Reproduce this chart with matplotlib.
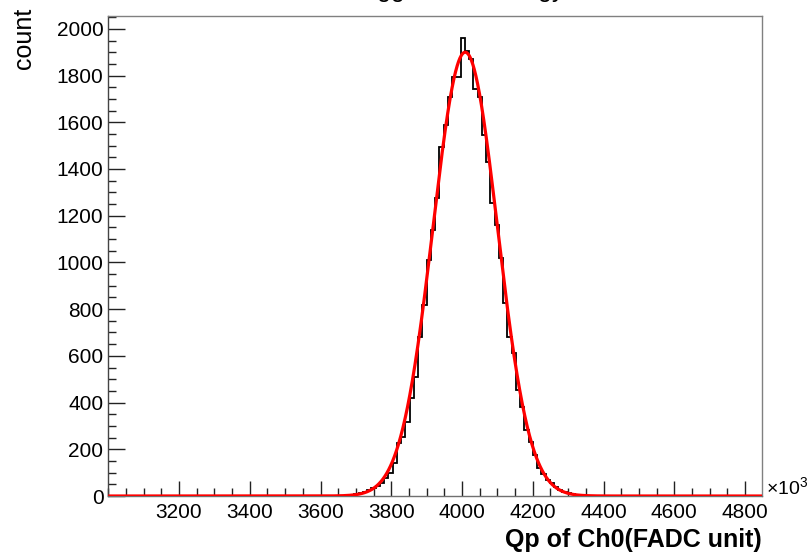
import numpy as np
import matplotlib
matplotlib.use("Agg")
import matplotlib.pyplot as plt
from matplotlib.ticker import MultipleLocator, FixedLocator

plt.rcParams['font.family'] = ['Liberation Sans', 'DejaVu Sans']
plt.rcParams['mathtext.fontset'] = 'custom'
plt.rcParams['mathtext.rm'] = 'Liberation Sans'
plt.rcParams['mathtext.default'] = 'regular'

# ---------------- data ----------------
title = "Trigger total energy"
x_label = "Qp of Ch0(FADC unit)"
y_label = "count"
x_range = (3000.0, 4848.0)
bin_width = 12.0
core_start = 3648.0   # left edge of first listed bin; all other bins are empty
core_counts = [1, 2, 3, 5, 8, 12, 19, 26, 33, 43, 57, 76, 97, 140, 225, 254,
               318, 418, 511, 682, 818, 1010, 1139, 1274, 1495, 1588, 1707,
               1795, 1795, 1959, 1906, 1873, 1742, 1707, 1545, 1431, 1253,
               1160, 1017, 825, 682, 611, 454, 382, 283, 232, 176, 119, 94,
               68, 54, 40, 26, 18, 14, 9, 6, 4, 2, 1]
# Gaussian fit parameters
fit_const = 1900.0
fit_mean = 4009.0
fit_sigma = 91.0
x_ticks = [3200, 3400, 3600, 3800, 4000, 4200, 4400, 4600, 4800]
y_ticks = [0, 200, 400, 600, 800, 1000, 1200, 1400, 1600, 1800, 2000]
y_max = 2055

# ---------------- figure ----------------
W, H = 809, 558
fig = plt.figure(figsize=(W / 100, H / 100), dpi=100)
L, R, T, B = 108.3, 762, 16, 496
ax = fig.add_axes([L / W, (H - B) / H, (R - L) / W, (B - T) / H])

n_bins = int(round((x_range[1] - x_range[0]) / bin_width))
edges = x_range[0] + bin_width * np.arange(n_bins + 1)
counts = np.zeros(n_bins)
i0 = int(round((core_start - x_range[0]) / bin_width))
counts[i0:i0 + len(core_counts)] = core_counts

ax.stairs(counts, edges, color='black', lw=1.3, baseline=None, zorder=2)

xf = np.linspace(x_range[0], x_range[1], 2000)
yf = fit_const * np.exp(-0.5 * ((xf - fit_mean) / fit_sigma) ** 2)
ax.plot(xf, yf, color='#ff0000', lw=2.3, zorder=3, solid_capstyle='butt')

ax.set_xlim(*x_range)
ax.set_ylim(0, y_max)

ax.xaxis.set_major_locator(FixedLocator(x_ticks))
ax.xaxis.set_minor_locator(MultipleLocator(50))
ax.yaxis.set_major_locator(FixedLocator(y_ticks))
ax.yaxis.set_minor_locator(MultipleLocator(50))

ax.tick_params(axis='both', which='both', direction='in', top=False, right=False,
               color='#222222', width=1.0, labelsize=15, labelcolor='black')
ax.tick_params(axis='x', which='major', length=11, pad=5)
ax.tick_params(axis='x', which='minor', length=5.5)
ax.tick_params(axis='y', which='major', length=12, pad=3.5)
ax.tick_params(axis='y', which='minor', length=6)

for s in ax.spines.values():
    s.set_linewidth(1.0)
ax.spines['top'].set_color('#808080')
ax.spines['right'].set_color('#808080')
ax.spines['left'].set_color('#444444')
ax.spines['bottom'].set_color('#707070')

fig.text(766 / W, (H - 494) / H, '×10$^{3}$', fontsize=14, ha='left', va='baseline')

fig.text(R / W, (H - 547) / H, x_label, fontsize=18, fontweight='bold',
         ha='right', va='baseline')
fig.text(24 / W, 1 - 8 / H, y_label, fontsize=18, rotation=90,
         ha='center', va='top')
# title sits at the very top edge; only its descenders are inside the image
fig.text(457 / W, 1 + 2.5 / H, title, fontsize=18, ha='center', va='baseline')

fig.savefig('out.png', dpi=100)
